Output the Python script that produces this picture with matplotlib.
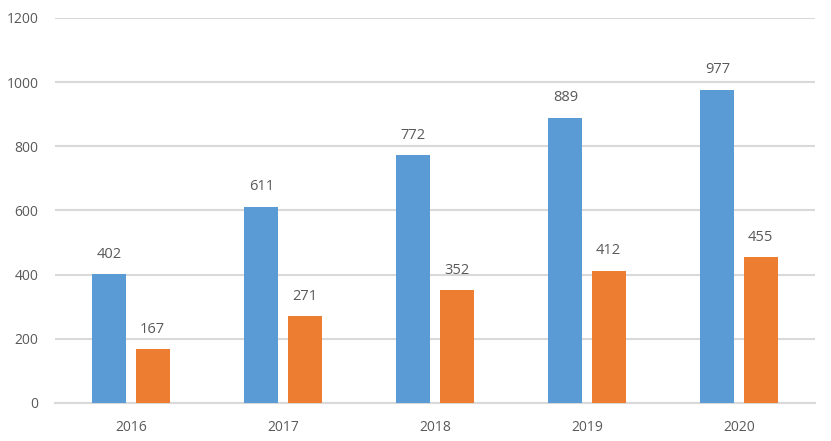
import numpy as np
import matplotlib
matplotlib.use("Agg")
import matplotlib.pyplot as plt

# Data
years = ["2016", "2017", "2018", "2019", "2020"]
series_a = [402, 611, 772, 889, 977]
series_b = [167, 271, 352, 412, 455]

BLUE = "#5B9BD5"
ORANGE = "#ED7D31"
TEXT = "#595959"
GRID = "#D9D9D9"

plt.rcParams['font.family'] = ['Open Sans', 'DejaVu Sans']

fig = plt.figure(figsize=(8.31, 4.41), dpi=100)
ax = fig.add_axes([55 / 831, 38 / 441, 760 / 831, 385 / 441])

x = np.arange(len(years))
width = 0.224
offset = 0.142

bars_a = ax.bar(x - offset, series_a, width, color=BLUE, zorder=3)
bars_b = ax.bar(x + offset, series_b, width, color=ORANGE, zorder=3)

for bars in (bars_a, bars_b):
    for b in bars:
        ax.annotate(f"{int(b.get_height())}",
                    (b.get_x() + b.get_width() / 2, b.get_height()),
                    xytext=(0, 9), textcoords="offset points",
                    ha="center", va="bottom", fontsize=10.5, color=TEXT)

ax.set_xlim(-0.5, len(years) - 0.5)
ax.set_ylim(0, 1200)
ax.set_yticks(range(0, 1201, 200))
ax.set_xticks(x)
ax.set_xticklabels(years)

ax.yaxis.grid(True, color=GRID, linewidth=1.5, zorder=0)
ax.set_axisbelow(True)
for s in ["top", "right", "left"]:
    ax.spines[s].set_visible(False)
ax.spines["bottom"].set_color(GRID)
ax.spines["bottom"].set_linewidth(1.5)

ax.tick_params(axis="both", length=0, labelsize=10, colors=TEXT)
ax.tick_params(axis="x", pad=12)
ax.tick_params(axis="y", pad=12)

fig.savefig("out.png", dpi=100)
